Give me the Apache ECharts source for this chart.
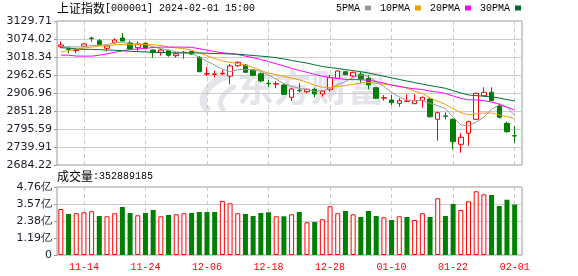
<!DOCTYPE html>
<html><head><meta charset="utf-8">
<script src="https://cdn.jsdelivr.net/npm/echarts@6/dist/echarts.min.js"></script>
<style>html,body{margin:0;padding:0;background:#fff}#c{width:578px;height:276px}</style>
</head><body><div id="c"></div>
<script>
const dates = ['2023-11-09','2023-11-10','2023-11-13','2023-11-14','2023-11-15','2023-11-16','2023-11-17','2023-11-20','2023-11-21','2023-11-22',
'2023-11-23','2023-11-24','2023-11-27','2023-11-28','2023-11-29','2023-11-30','2023-12-01','2023-12-04','2023-12-05','2023-12-06',
'2023-12-07','2023-12-08','2023-12-11','2023-12-12','2023-12-13','2023-12-14','2023-12-15','2023-12-18','2023-12-19','2023-12-20',
'2023-12-21','2023-12-22','2023-12-25','2023-12-26','2023-12-27','2023-12-28','2023-12-29','2024-01-02','2024-01-03','2024-01-04',
'2024-01-05','2024-01-08','2024-01-09','2024-01-10','2024-01-11','2024-01-12','2024-01-15','2024-01-16','2024-01-17','2024-01-18',
'2024-01-19','2024-01-22','2024-01-23','2024-01-24','2024-01-25','2024-01-26','2024-01-29','2024-01-30','2024-01-31','2024-02-01'];
const opens = [3050.2,3043.5,3038.0,3051.4,3076.8,3068.8,3045.3,3062.6,3077.1,3061.7,
3047.1,3060.7,3040.0,3032.9,3037.8,3022.4,3032.0,3036.0,3017.4,2965.5,
2964.5,2966.5,2959.5,2991.4,2993.6,2978.1,2966.7,2937.0,2934.5,2931.7,
2893.6,2915.5,2911.0,2918.4,2903.9,2917.2,2952.4,2972.9,2959.5,2964.8,
2952.4,2923.4,2891.0,2885.3,2875.1,2881.0,2873.8,2884.4,2888.4,2825.6,
2836.0,2825.6,2748.2,2782.3,2825.6,2898.6,2909.1,2866.7,2813.2,2775.0];
const closes = [3055.5,3042.2,3039.6,3058.6,3075.6,3056.4,3052.4,3070.9,3067.8,3043.1,
3058.6,3045.3,3032.9,3040.0,3023.6,3028.5,3032.9,3027.6,2972.9,2966.7,
2966.0,2968.3,2990.5,3002.0,2971.0,2961.7,2944.1,2935.7,2935.7,2902.9,
2919.3,2914.1,2918.4,2903.9,2913.1,2954.3,2975.0,2963.6,2971.0,2951.2,
2931.7,2890.6,2892.4,2877.0,2883.1,2882.2,2883.1,2893.7,2833.6,2846.0,
2834.9,2756.3,2769.9,2818.2,2906.0,2909.1,2883.1,2831.8,2787.3,2773.9];
const lows = [3045.3,3029.8,3029.8,3049.3,3065.7,3055.5,3036.0,3059.5,3065.7,3042.0,
3036.9,3044.0,3016.2,3022.4,3019.3,3016.2,3013.1,3024.5,2971.0,2959.6,
2955.5,2962.6,2933.9,2988.3,2968.8,2959.6,2940.1,2926.5,2921.5,2900.8,
2882.2,2907.9,2906.0,2893.6,2895.5,2911.0,2950.3,2962.5,2957.4,2937.0,
2918.4,2888.0,2883.1,2869.8,2864.6,2879.0,2873.0,2861.5,2831.0,2759.4,
2825.6,2732.8,2722.3,2743.9,2823.4,2898.0,2883.0,2828.7,2784.1,2753.2];
const highs = [3065.7,3048.3,3045.3,3060.7,3081.1,3074.0,3055.5,3076.2,3092.6,3068.8,
3065.7,3063.8,3041.0,3045.3,3038.5,3032.9,3036.9,3036.9,3021.4,2987.4,
2976.0,2978.1,2996.7,3005.0,2995.8,2981.2,2971.0,2947.2,2943.2,2937.0,
2923.4,2937.0,2920.3,2923.4,2916.2,2962.7,2976.5,2975.0,2972.9,2971.9,
2962.7,2925.5,2900.8,2900.8,2890.6,2902.9,2902.9,2895.5,2890.6,2849.1,
2847.3,2828.7,2782.3,2821.3,2907.9,2924.6,2924.6,2875.1,2818.2,2804.9];
const ma5 = [3050.2,3050.0,3049.4,3049.7,3054.3,3054.5,3056.5,3062.8,3064.6,3058.1,
3058.6,3057.1,3049.5,3044.0,3040.1,3034.1,3031.6,3030.5,3017.1,3005.7,
2993.2,2980.3,2972.9,2978.7,2979.6,2978.7,2973.9,2962.9,2949.6,2936.0,
2927.5,2921.5,2918.1,2911.7,2913.8,2920.8,2932.9,2942.0,2955.4,2963.0,
2958.5,2941.6,2927.4,2908.6,2895.0,2885.1,2883.6,2883.8,2875.1,2867.7,
2858.3,2832.9,2808.1,2805.1,2817.1,2831.9,2857.3,2869.6,2863.5,2837.0];
const ma10 = [3034,3038,3042,3046,3049,3052.4,3053.3,3056.1,3057.2,3056.2,
3056.6,3056.8,3056.2,3054.3,3049.1,3046.4,3044.4,3040.0,3030.6,3022.9,
3013.7,3006.0,3001.7,2997.9,2992.7,2986.0,2977.1,2967.9,2964.2,2957.8,
2953.1,2947.7,2940.5,2930.7,2924.9,2924.2,2927.2,2930.1,2933.6,2938.4,
2939.7,2937.3,2934.7,2932.0,2929.0,2921.8,2912.6,2905.6,2891.9,2881.4,
2871.7,2858.3,2846.0,2840.1,2842.4,2845.1,2845.1,2838.9,2834.3,2827.1];
const ma20 = [3024,3024,3021,3021,3021,3024,3028,3033,3037,3042,
3043,3045,3048,3049,3049,3049,3049,3048,3044,3039.6,
3035.1,3031.4,3028.9,3026.1,3020.9,3016.1,3010.7,3004.0,2997.4,2990.3,
2983.4,2976.8,2971.1,2964.3,2958.8,2955.1,2952.2,2949.0,2948.9,2948.1,
2946.4,2942.5,2937.6,2931.3,2926.9,2923.0,2919.9,2917.8,2912.7,2909.9,
2905.6,2897.8,2890.3,2886.0,2885.7,2883.4,2878.8,2872.2,2863.1,2854.2];
const ma30 = [3047,3046,3043,3042,3042,3041,3040,3039,3038,3036,
3035,3034,3033,3032,3032,3031,3031,3031,3031,3030,
3029,3028.5,3028,3027,3025,3023,3021,3019,3016,3012.3,
3007.8,3003.5,2999.5,2994.3,2988.9,2985.5,2982.9,2979.3,2976.1,2973.0,
2968.8,2963.6,2959.0,2953.5,2948.8,2944.0,2939.0,2934.5,2929.9,2925.8,
2921.5,2914.4,2907.1,2900.9,2898.8,2897.0,2895.0,2891.5,2886.6,2882.3];
const volumes = [322000000,287000000,292000000,299000000,306000000,273000000,271000000,292000000,336000000,294000000,
278000000,294000000,315000000,271000000,280000000,285000000,292000000,294000000,301000000,301000000,
301000000,378000000,362000000,292000000,287000000,273000000,294000000,299000000,271000000,271000000,
285000000,301000000,229000000,231000000,250000000,341000000,292000000,308000000,285000000,266000000,
308000000,273000000,264000000,245000000,271000000,266000000,245000000,292000000,266000000,397000000,
273000000,357000000,315000000,376000000,446000000,425000000,420000000,343000000,387000000,352889185];
const volUp = [1,0,1,1,1,0,1,1,0,0, 1,0,0,1,0,1,1,0,0,0, 0,1,1,1,0,0,0,0,1,0,
1,0,1,0,1,1,1,0,1,0, 0,0,1,0,1,0,1,1,0,1, 0,0,1,1,1,1,0,0,0,0];
const maNames = ['5PMA','10PMA','20PMA','30PMA'];
const priceTicks = ['2684.22','2739.91','2795.59','2851.28','2906.96','2962.65','3018.34','3074.02','3129.71'];
const volTicks = ['0','1.19亿','2.38亿','3.57亿','4.76亿'];
const labelDates = ['2023-11-14','2023-11-24','2023-12-06','2023-12-18','2023-12-28','2024-01-10','2024-01-22','2024-02-01'];

const PMIN = 2684.22, PMAX = 3129.71, PINT = (PMAX - PMIN) / 8;
const VMAX = 4.76e8, VINT = 1.19e8;
const RED = '#ff0000', GREEN = '#008000';
const maColors = ['#999999', '#f0a000', '#ff00ff', '#006e32'];
const sans = 'DejaVu Sans', mono = 'Liberation Mono', cjk = 'Noto Sans CJK SC';
const isLabel = (i) => labelDates.indexOf(dates[i]) >= 0;
const labelIdx = labelDates.map((d) => dates.indexOf(d));
const lastDate = dates[dates.length - 1];
const WM = '#e4e4ea';

// layout of the plotting area
const PLOT_LEFT = 57, PLOT_W = 461.5, FRAME_W = 465;
const BAND = PLOT_W / dates.length;
// helper value-axis grid spanning first..last labelled category, so its split lines fall on label positions
const GUIDE_LEFT = PLOT_LEFT + (labelIdx[0] + 0.5) * BAND;
const GUIDE_W = (labelIdx[labelIdx.length - 1] - labelIdx[0]) * BAND;
const guideAxis = (g) => ({ type: 'value', gridIndex: g, min: labelIdx[0], max: labelIdx[labelIdx.length - 1], interval: labelIdx[1] - labelIdx[0],
  axisLine: { show: false }, axisTick: { show: false }, axisLabel: { show: false },
  splitLine: { show: true, lineStyle: { color: '#cccccc', width: 1, type: [4, 3] } } });
const hiddenY = (g) => ({ type: 'value', gridIndex: g, min: 0, max: 1, show: false, splitLine: { show: false } });

const chart = echarts.init(document.getElementById('c'));

const option = {
  animation: false,
  legend: {
    data: maNames, left: 336, top: 3, align: 'right', icon: 'rect', itemWidth: 6, itemHeight: 5, itemGap: 9,
    selectedMode: false, padding: 0,
    textStyle: { fontFamily: mono, fontSize: 10, color: '#000' }
  },
  grid: [
    { left: PLOT_LEFT, top: 21, width: PLOT_W, height: 144, outerBoundsMode: 'none', containLabel: false },
    { left: PLOT_LEFT, top: 187, width: PLOT_W, height: 68, outerBoundsMode: 'none', containLabel: false },
    { left: PLOT_LEFT, top: 21, width: FRAME_W, height: 144, show: true, borderColor: '#999', borderWidth: 1, outerBoundsMode: 'none', containLabel: false },
    { left: PLOT_LEFT, top: 187, width: FRAME_W, height: 68, show: true, borderColor: '#999', borderWidth: 1, outerBoundsMode: 'none', containLabel: false },
    { left: GUIDE_LEFT, top: 21, width: GUIDE_W, height: 144, outerBoundsMode: 'none', containLabel: false },
    { left: GUIDE_LEFT, top: 187, width: GUIDE_W, height: 68, outerBoundsMode: 'none', containLabel: false }
  ],
  xAxis: [
    { type: 'category', gridIndex: 0, data: dates, boundaryGap: true, axisLine: { show: false }, axisTick: { show: false }, axisLabel: { show: false }, splitLine: { show: false } },
    { type: 'category', gridIndex: 1, data: dates, boundaryGap: true, axisLine: { show: false }, axisTick: { show: false, alignWithLabel: true, interval: (i) => isLabel(i) },
      axisLabel: { show: true, interval: (i) => isLabel(i), formatter: (d) => d.slice(5), color: RED, fontFamily: mono, fontSize: 10, margin: 7 }, splitLine: { show: false } },
    { type: 'value', gridIndex: 2, min: 0, max: 1, show: false },
    { type: 'value', gridIndex: 3, min: 0, max: 1, show: false },
    guideAxis(4),
    guideAxis(5)
  ],
  yAxis: [
    { type: 'value', gridIndex: 0, min: PMIN, max: PMAX, interval: PINT, axisLine: { show: false },
      axisTick: { show: true, length: 3, lineStyle: { color: '#999' } },
      axisLabel: { formatter: (v) => priceTicks[Math.round((v - PMIN) / PINT)], fontFamily: sans, fontSize: 11, color: '#1a1a2a', margin: 5 },
      splitLine: { show: false } },
    { type: 'value', gridIndex: 1, min: 0, max: VMAX, interval: VINT, axisLine: { show: false },
      axisTick: { show: true, length: 3, lineStyle: { color: '#999' } },
      axisLabel: { formatter: (v) => volTicks[Math.round(v / VINT)], fontFamily: sans, fontSize: 11, color: '#1a1a2a', margin: 5 },
      splitLine: { show: false } },
    { type: 'value', gridIndex: 2, min: PMIN, max: PMAX, interval: PINT, axisLine: { show: false }, axisTick: { show: false }, axisLabel: { show: false },
      splitLine: { show: true, lineStyle: { color: '#cccccc', width: 1 } } },
    { type: 'value', gridIndex: 3, min: 0, max: VMAX, interval: VINT, axisLine: { show: false }, axisTick: { show: false }, axisLabel: { show: false },
      splitLine: { show: true, lineStyle: { color: '#cccccc', width: 1 } } },
    hiddenY(4),
    hiddenY(5)
  ],
  graphic: [
    { type: 'text', left: 57, top: 2, z: 10, style: { text: '{a|上证指数}{b|[000001] ' + lastDate + ' 15:00}',
      rich: { a: { fontFamily: cjk, fontSize: 12, fill: '#000' }, b: { fontFamily: mono, fontSize: 10, fill: '#000' } } } },
    { type: 'text', left: 57, top: 170, z: 10, style: { text: '{a|成交量}{b|:' + volumes[volumes.length - 1] + '}',
      rich: { a: { fontFamily: cjk, fontSize: 12, fill: '#000' }, b: { fontFamily: mono, fontSize: 10, fill: '#000' } } } },
    { type: 'bezierCurve', z: 0, silent: true, shape: { x1: 228, y1: 76, cpx1: 210, cpy1: 80, cpx2: 196, cpy2: 100, x2: 207, y2: 109 },
      style: { stroke: WM, lineWidth: 7, lineCap: 'round', fill: null } },
    { type: 'bezierCurve', z: 0, silent: true, shape: { x1: 234, y1: 87, cpx1: 224, cpy1: 92, cpx2: 216, cpy2: 102, x2: 223, y2: 109 },
      style: { stroke: WM, lineWidth: 5, lineCap: 'round', fill: null } },
    { type: 'text', left: 237, top: 69, z: 0, silent: true, style: { text: '东方财富', fontFamily: cjk, fontSize: 37, fontWeight: 'bold', fill: WM } }
  ],
  series: [
    { type: 'candlestick', name: 'K', xAxisIndex: 0, yAxisIndex: 0, barWidth: 5, z: 3,
      data: dates.map((d, i) => [opens[i], closes[i], lows[i], highs[i]]),
      itemStyle: { color: '#ffffff', color0: GREEN, borderColor: RED, borderColor0: GREEN, borderWidth: 1 } },
    ...maNames.map((n, k) => ({
      type: 'line', name: n, xAxisIndex: 0, yAxisIndex: 0, data: [ma5, ma10, ma20, ma30][k], showSymbol: false, symbol: 'none', z: 4,
      lineStyle: { width: 1, color: maColors[k] }, itemStyle: { color: maColors[k] }
    })),
    { type: 'bar', name: 'VOL', xAxisIndex: 1, yAxisIndex: 1, barWidth: 5, z: 3,
      data: volumes.map((v, i) => ({ value: v, itemStyle: volUp[i] ? { color: '#ffffff', borderColor: RED, borderWidth: 1 } : { color: GREEN } })) }
  ]
};
chart.setOption(option);
</script></body></html>
